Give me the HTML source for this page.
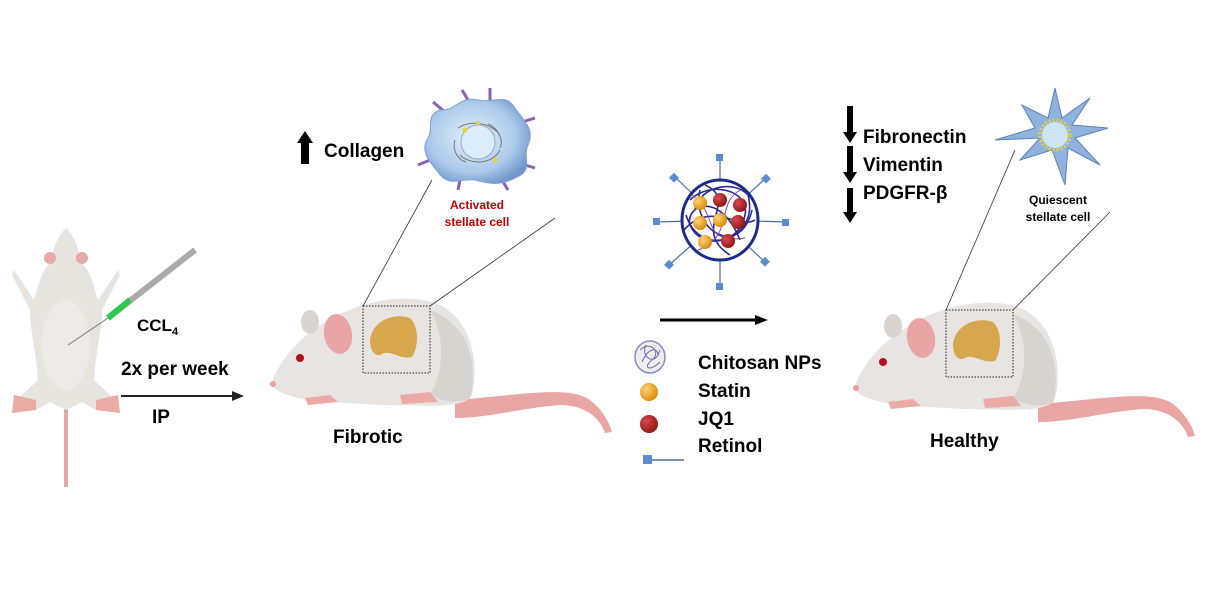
<!DOCTYPE html>
<html><head><meta charset="utf-8"><style>
html,body{margin:0;padding:0;background:#fff}
svg{display:block}
text{font-family:"Liberation Sans",sans-serif;font-weight:bold}
</style></head><body>
<svg width="1222" height="589" viewBox="0 0 1222 589" xmlns="http://www.w3.org/2000/svg">
<defs>
<radialGradient id="cellg" cx="0.45" cy="0.45" r="0.6"><stop offset="0" stop-color="#e6f1fb"/><stop offset="0.7" stop-color="#a9c8ea"/><stop offset="1" stop-color="#6f97c9"/></radialGradient>
<radialGradient id="og" cx="0.35" cy="0.35" r="0.7"><stop offset="0" stop-color="#ffd27a"/><stop offset="1" stop-color="#d98a00"/></radialGradient>
<radialGradient id="rg" cx="0.35" cy="0.35" r="0.7"><stop offset="0" stop-color="#d94a4a"/><stop offset="1" stop-color="#8e1515"/></radialGradient>
<g id="mouse">
  <path d="M455,400 C520,395 570,385 590,400 C605,412 610,425 612,432 L605,433 C600,418 585,405 560,405 C520,408 490,418 455,418 Z" fill="#e8a6a4"/>
  <path d="M272,382 C280,360 300,335 330,320 C360,300 410,292 440,305 C470,320 480,360 472,395 C465,410 420,405 380,405 L330,402 C300,400 280,395 272,386 Z" fill="#e7e4e1"/>
  <path d="M430,310 C470,325 478,365 470,398 C455,405 440,400 430,395 C445,370 445,335 430,310 Z" fill="#d7d3cf"/>
  <path d="M305,398 L330,395 L338,402 L308,405 Z" fill="#eaaaa6"/>
  <path d="M400,395 L430,392 L438,402 L402,404 Z" fill="#eaaaa6"/>
  <ellipse cx="310" cy="322" rx="9" ry="12" fill="#d9d4d0"/>
  <ellipse cx="338" cy="334" rx="14" ry="20" fill="#e9a4a6" transform="rotate(-10 338 334)"/>
  <circle cx="300" cy="358" r="4" fill="#b0121c"/>
  <circle cx="273" cy="384" r="3" fill="#e8a0a0"/>
  <path d="M370,340 C372,322 392,312 410,318 C420,328 418,348 412,357 C398,360 390,348 380,355 C374,356 370,350 370,340 Z" fill="#d6a74c"/>
  <rect x="363" y="306" width="67" height="67" fill="none" stroke="#222" stroke-width="1" stroke-dasharray="1.5,1.5"/>
</g>
</defs>

<g>
  <path d="M66,487 L66,405" stroke="#e3a8a6" stroke-width="4" fill="none"/>
  <path d="M66,228 C58,235 52,250 52,262 C40,270 38,290 34,300 L14,270 L12,275 L30,310 C30,330 36,350 38,380 L22,395 L12,412 L36,410 L50,402 L66,410 L82,402 L96,410 L120,412 L110,395 L94,380 C96,350 102,330 102,310 L120,275 L118,270 L98,300 C94,290 92,270 80,262 C80,250 74,235 66,228 Z" fill="#e7e3df"/>
  <ellipse cx="66" cy="345" rx="24" ry="45" fill="#ece9e6"/>
  <circle cx="50" cy="258" r="6" fill="#e7aaaa"/><circle cx="82" cy="258" r="6" fill="#e7aaaa"/>
  <path d="M14,395 L36,400 L36,410 L12,413 Z M96,400 L118,395 L120,413 L96,410 Z" fill="#eaaaa6"/>
  <line x1="68" y1="345" x2="108" y2="318" stroke="#777" stroke-width="1"/>
  <line x1="108" y1="318" x2="195" y2="250" stroke="#aaa" stroke-width="6"/>
  <line x1="108" y1="318" x2="130" y2="300" stroke="#2ec84a" stroke-width="6"/>
</g>
<text x="137" y="331" font-size="17">CCL<tspan font-size="11" dy="4">4</tspan></text>
<text x="121" y="375" font-size="19">2x per week</text>
<line x1="121" y1="396" x2="234" y2="396" stroke="#222" stroke-width="2"/>
<polygon points="232,391 244,396 232,401" fill="#222"/>
<text x="152" y="423" font-size="19">IP</text>

<use href="#mouse"/>
<text x="333" y="443" font-size="19">Fibrotic</text>
<line x1="363" y1="306" x2="432" y2="180" stroke="#333" stroke-width="0.8"/>
<line x1="430" y1="306" x2="555" y2="218" stroke="#333" stroke-width="0.8"/>

<polygon points="305,131 297,143 301,143 301,164 309,164 309,143 313,143" fill="#000"/>
<text x="324" y="157" font-size="19">Collagen</text>
<g stroke="#8a62b0" stroke-width="3">
  <line x1="445" y1="112" x2="433" y2="102"/><line x1="490" y1="100" x2="490" y2="88"/>
  <line x1="522" y1="122" x2="535" y2="118"/><line x1="430" y1="160" x2="418" y2="165"/>
  <line x1="460" y1="180" x2="458" y2="190"/><line x1="502" y1="180" x2="508" y2="190"/>
  <line x1="525" y1="165" x2="535" y2="168"/><line x1="468" y1="100" x2="462" y2="90"/>
</g>
<path d="M440,110 C455,112 460,95 478,100 C495,104 505,92 515,108 C525,122 535,130 528,145 C522,160 535,170 515,178 C500,186 490,184 475,180 C460,178 448,188 438,172 C428,160 420,150 428,138 C434,128 425,115 440,110 Z" fill="url(#cellg)" stroke="#7fa3d4"/>
<circle cx="478" cy="142" r="17" fill="#dcecfa" stroke="#9ab" stroke-width="1"/>
<path d="M458,128 C470,120 490,122 500,135 M460,155 C470,165 492,165 500,150 M455,140 C452,150 458,160 466,162 M488,124 C498,128 504,140 500,148" stroke="#777" fill="none"/>
<circle cx="465" cy="130" r="2.5" fill="#e6d23a"/><circle cx="495" cy="160" r="2.5" fill="#e6d23a"/><circle cx="478" cy="123" r="2" fill="#e6d23a"/>
<text x="477" y="209" font-size="12" fill="#c00000" text-anchor="middle">Activated</text>
<text x="477" y="226" font-size="12" fill="#c00000" text-anchor="middle">stellate cell</text>

<g stroke="#4a6fa0" stroke-width="1.2">
  <line x1="720" y1="220" x2="720" y2="158"/><line x1="720" y1="220" x2="720" y2="285"/>
  <line x1="720" y1="220" x2="658" y2="222"/><line x1="720" y1="220" x2="786" y2="222"/>
  <line x1="720" y1="220" x2="676" y2="178"/><line x1="720" y1="220" x2="766" y2="178"/>
  <line x1="720" y1="220" x2="669" y2="265"/><line x1="720" y1="220" x2="765" y2="262"/>
</g>
<g fill="#5b8bd0">
  <rect x="716" y="154" width="7" height="7"/><rect x="716" y="283" width="7" height="7"/>
  <rect x="653" y="218" width="7" height="7"/><rect x="782" y="219" width="7" height="7"/>
  <rect x="671" y="174" width="7" height="7" transform="rotate(45 674 177)"/><rect x="763" y="175" width="7" height="7" transform="rotate(45 766 178)"/>
  <rect x="666" y="261" width="7" height="7" transform="rotate(45 669 264)"/><rect x="762" y="258" width="7" height="7" transform="rotate(45 765 261)"/>
</g>
<ellipse cx="720" cy="220" rx="38" ry="40" fill="#fff" stroke="#1c2a8a" stroke-width="3"/>
<g stroke="#2a2a90" stroke-width="1.6" fill="none">
<path d="M690,200 C710,180 750,190 745,215 C740,245 700,250 690,225 C685,205 720,190 740,240"/>
<path d="M700,190 C690,230 740,260 752,210"/>
<path d="M686,215 C700,260 760,240 748,195 C735,180 700,185 695,210"/>
<path d="M705,185 C740,200 690,230 730,255"/>
<path d="M684,230 C710,200 740,230 755,220"/>
</g>
<g stroke="#7a4ab0" stroke-width="1" fill="none">
<path d="M692,195 C720,215 700,245 745,238"/><path d="M740,190 C715,205 735,235 698,250"/>
</g>
<circle cx="700" cy="203" r="7" fill="url(#og)"/><circle cx="720" cy="200" r="7" fill="url(#rg)"/><circle cx="740" cy="205" r="7" fill="url(#rg)"/>
<circle cx="700" cy="223" r="7" fill="url(#og)"/><circle cx="720" cy="220" r="7" fill="url(#og)"/><circle cx="738" cy="222" r="7" fill="url(#rg)"/>
<circle cx="705" cy="242" r="7" fill="url(#og)"/><circle cx="728" cy="241" r="7" fill="url(#rg)"/>

<line x1="660" y1="320" x2="757" y2="320" stroke="#000" stroke-width="3"/>
<polygon points="755,315 768,320 755,325" fill="#000"/>

<ellipse cx="650" cy="357" rx="15" ry="16" fill="#eee" stroke="#8a8ac8" stroke-width="1.5"/>
<path d="M640,350 C650,340 662,352 652,360 C642,368 650,372 660,362 M642,362 C648,348 658,346 658,356 M646,345 C640,356 655,368 660,350" stroke="#6a6ab0" fill="none"/>
<circle cx="649" cy="392" r="9" fill="url(#og)"/>
<circle cx="649" cy="424" r="9" fill="url(#rg)"/>
<rect x="643" y="455" width="9" height="9" fill="#5b8bd0"/>
<line x1="652" y1="460" x2="684" y2="460" stroke="#4a6fa0" stroke-width="1.5"/>
<text x="698" y="369" font-size="19">Chitosan NPs</text>
<text x="698" y="397" font-size="19">Statin</text>
<text x="698" y="425" font-size="19">JQ1</text>
<text x="698" y="452" font-size="19">Retinol</text>

<g fill="#000">
  <polygon points="847,106 853,106 853,132 857,132 850,143 843,132 847,132"/>
  <polygon points="847,146 853,146 853,172 857,172 850,183 843,172 847,172"/>
  <polygon points="847,188 853,188 853,212 857,212 850,223 843,212 847,212"/>
</g>
<text x="863" y="143" font-size="19">Fibronectin</text>
<text x="863" y="171" font-size="19">Vimentin</text>
<text x="863" y="199" font-size="19">PDGFR-β</text>

<path d="M1055,88 L1062,118 L1090,98 L1072,125 L1108,128 L1075,138 L1100,165 L1068,148 L1065,185 L1052,150 L1020,160 L1040,138 L995,140 L1035,128 L1022,105 L1048,118 Z" fill="#8fb3de" stroke="#5b82b8" stroke-width="1"/>
<circle cx="1055" cy="135" r="13" fill="#cfe3f7"/>
<circle cx="1055" cy="135" r="15" fill="none" stroke="#e6d23a" stroke-width="3" stroke-dasharray="2,2"/>
<text x="1058" y="204" font-size="12" text-anchor="middle">Quiescent</text>
<text x="1058" y="221" font-size="12" text-anchor="middle">stellate cell</text>

<use href="#mouse" transform="translate(583,4)"/>
<text x="930" y="447" font-size="19">Healthy</text>
<line x1="946" y1="310" x2="1015" y2="150" stroke="#333" stroke-width="0.8"/>
<line x1="1013" y1="310" x2="1110" y2="212" stroke="#333" stroke-width="0.8"/>
</svg>
</body></html>
